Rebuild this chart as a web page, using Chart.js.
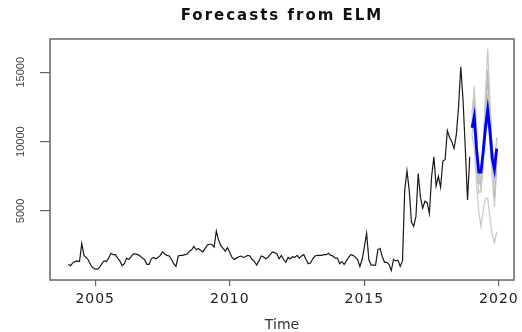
<!DOCTYPE html>
<html>
<head>
<meta charset="utf-8">
<script src="https://cdn.jsdelivr.net/npm/chart.js@4.4.0/dist/chart.umd.min.js"></script>
<style>
  html, body { margin: 0; padding: 0; background: #fff; }
  #wrap { width: 522px; height: 332px; }
</style>
</head>
<body>
<div id="wrap"><canvas id="chart" width="522" height="332"></canvas></div>
<script>
// observed monthly series, Jan 2004 .. Dec 2018
const startYear = 2004;
const observed = [
    1150, 1050, 1250, 1350, 1400, 1350, 2650, 1800, 1650, 1450, 1100, 900,
    800, 800, 950, 1200, 1400, 1350, 1600, 1950, 1850, 1850, 1600, 1400,
    1050, 1200, 1600, 1500, 1700, 1900, 1900, 1850, 1750, 1600, 1500, 1150,
    1150, 1550, 1650, 1550, 1650, 1800, 2050, 1900, 1800, 1750, 1500, 1200,
    1000, 1750, 1800, 1800, 1850, 1900, 2100, 2200, 2450, 2200, 2300, 2150,
    2050, 2300, 2550, 2600, 2600, 2400, 3550, 2900, 2500, 2300, 2100, 2350,
    2000, 1650, 1500, 1600, 1700, 1750, 1650, 1700, 1800, 1750, 1500, 1350,
    1100, 1400, 1750, 1700, 1550, 1650, 1850, 2050, 2000, 1900, 1550, 1800,
    1500, 1300, 1650, 1550, 1700, 1650, 1800, 1600, 1750, 1850, 1500, 1200,
    1250, 1550, 1750, 1800, 1800, 1800, 1850, 1850, 1950, 1800, 1750, 1600,
    1600, 1200, 1350, 1150, 1400, 1650, 1850, 1800, 1650, 1500, 1000, 1500,
    2400, 3400, 1500, 1100, 1100, 1100, 2200, 2300, 1700, 1300, 1300, 1150,
    700, 1500, 1400, 1450, 1000, 1400, 6500, 7900, 6500, 4200, 3900, 4600,
    7700, 6000, 5200, 5700, 5600, 4800, 7500, 8900, 6800, 7500, 6700, 8600,
    8700, 10800, 10300, 10000, 9500, 10500, 12500, 15400, 13000, 9500, 5800, 8900
];

// forecast, Jan .. Dec 2019
const forecastStart = 2019;
const forecastMean = [11000, 11800, 9500, 7800, 7800, 9300, 11000, 12300, 10800, 8800, 8000, 9500];

// individual network forecasts
const members = [
    [11500, 14000, 11000, 7500, 6500, 9000, 13500, 16700, 13000, 9000, 6500, 10000],
    [11000, 13000, 10000, 7000, 7000, 10000, 12800, 15200, 12000, 8500, 7000, 10300],
    [10500, 12000, 9000, 7300, 7500, 9000, 11500, 13500, 11000, 8000, 7500, 9000],
    [11200, 12500, 10000, 8300, 8200, 9500, 11200, 12500, 11300, 9500, 8700, 9800],
    [10500, 9500, 7000, 5000, 3900, 5000, 5900, 5900, 4500, 3300, 2700, 3500],
    [12000, 13500, 10500, 8000, 6800, 8500, 12000, 14500, 12500, 9500, 6000, 8500],
    [10800, 11000, 8000, 6300, 6500, 8500, 10500, 11500, 10000, 7500, 5300, 8000]
];

const xTicks = [2005, 2010, 2015, 2020];
const yTicks = [5000, 10000, 15000];

function toPoints(values, start) {
    return values.map((v, i) => ({ x: start + i / 12, y: v }));
}

const datasets = [
    {
        data: toPoints(forecastMean, forecastStart),
        borderColor: '#0000ff',
        borderWidth: 2.8
    },
    {
        data: toPoints(observed, startYear),
        borderColor: '#1a1a1a',
        borderWidth: 1.2
    }
];
members.forEach((m, i) => {
    datasets.push({
        data: toPoints(m, forecastStart),
        borderColor: i % 2 ? '#b8b8b8' : '#cbcbcb',
        borderWidth: 1.3
    });
});

// wrap a draw method so its text gets some letter spacing (the reference is stretched wide)
function spaced(ctx, fn, spacing) {
    return function() {
        ctx.save();
        ctx.letterSpacing = spacing;
        fn.apply(this, arguments);
        ctx.restore();
    };
}

const spacingPlugin = {
    id: 'spacing',
    afterLayout(chart) {
        if (chart._spacedDone) return;
        chart._spacedDone = true;
        const ctx = chart.ctx;
        if (chart.titleBlock) {
            chart.titleBlock.draw = spaced(ctx, chart.titleBlock.draw, '2px');
        }
        const xs = chart.scales.x;
        xs.drawLabels = spaced(ctx, xs.drawLabels, '1px');
    }
};

const boxPlugin = {
    id: 'box',
    afterDraw(chart) {
        const { ctx, chartArea } = chart;
        ctx.save();
        ctx.strokeStyle = '#666';
        ctx.lineWidth = 1.5;
        ctx.strokeRect(chartArea.left, chartArea.top,
            chartArea.right - chartArea.left, chartArea.bottom - chartArea.top);
        ctx.restore();
    }
};

new Chart(document.getElementById('chart').getContext('2d'), {
    type: 'line',
    data: { datasets: datasets },
    options: {
        responsive: false,
        devicePixelRatio: 1,
        animation: false,
        elements: {
            point: { radius: 0 },
            line: { tension: 0 }
        },
        layout: { padding: { left: 0, right: 4, top: 0, bottom: 0 } },
        plugins: {
            legend: { display: false },
            tooltip: { enabled: false },
            title: {
                display: true,
                fullSize: false,
                text: 'Forecasts from ELM',
                color: '#111',
                font: { family: 'DejaVu Sans', size: 15, weight: 'bold', lineHeight: 1.2 },
                padding: { top: 7, bottom: 14 }
            }
        },
        scales: {
            x: {
                type: 'linear',
                min: 2003.32,
                max: 2020.56,
                afterBuildTicks: s => { s.ticks = xTicks.map(v => ({ value: v })); },
                afterFit: s => { s.height = 52; },
                grid: { display: true, drawOnChartArea: false, tickLength: 6, color: '#666', lineWidth: 1.2 },
                border: { display: false },
                ticks: {
                    callback: v => String(v),
                    color: '#222',
                    padding: 5,
                    maxRotation: 0,
                    font: { family: 'DejaVu Sans', size: 14 }
                },
                title: {
                    display: true,
                    text: 'Time',
                    color: '#333',
                    font: { family: 'DejaVu Sans', size: 14, lineHeight: 1 },
                    padding: { top: 0, bottom: 0 }
                }
            },
            y: {
                min: 22,
                max: 17400,
                afterBuildTicks: s => { s.ticks = yTicks.map(v => ({ value: v })); },
                afterFit: s => { s.width = 50; },
                grid: { display: true, drawOnChartArea: false, tickLength: 10, color: '#666', lineWidth: 1.2 },
                border: { display: false },
                ticks: {
                    callback: v => String(v),
                    color: '#444',
                    padding: 4,
                    minRotation: 90,
                    maxRotation: 90,
                    crossAlign: 'center',
                    font: { family: "'Liberation Sans Narrow', 'Liberation Sans'", size: 11 }
                }
            }
        }
    },
    plugins: [spacingPlugin, boxPlugin]
});
</script>
</body>
</html>
